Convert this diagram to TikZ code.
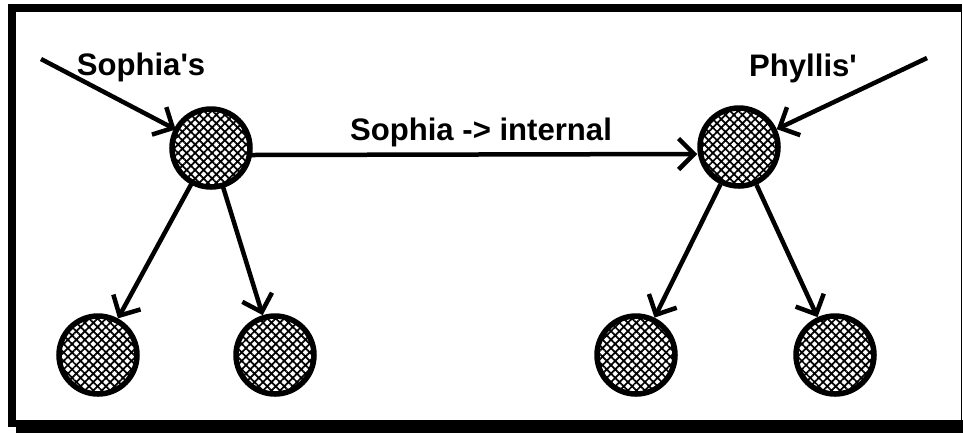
\documentclass[tikz,border=0pt]{standalone}
\usepackage{fontspec}
\setmainfont{Liberation Sans}
\usetikzlibrary{arrows.meta,patterns.meta}

\begin{document}
\begin{tikzpicture}[x=0.2mm, y=-0.2mm,
  every node/.style={font=\fontsize{17.7pt}{20pt}\selectfont\bfseries},
  agent/.style={circle, draw, line width=1.1mm, minimum size=15.6mm, inner sep=0pt,
    pattern={Hatch[angle=45, distance=1.2mm, line width=0.35mm]}},
  link/.style={line width=0.9mm, -{Straight Barb[length=3.1mm, width=6.2mm]}}]
\useasboundingbox (0,0) rectangle (963,433);
% frame
\fill (8,4) rectangle (16,427);
\fill (8,4) rectangle (962,12);
\fill (16,420) rectangle (963,433);
\draw[line width=0.25mm] (961.5,4) -- (961.5,420);
% agents
\node[agent] (sophia) at (211,148) {};
\node[agent] (phyllis) at (739,147) {};
\node[agent] (sl) at (98,355) {};
\node[agent] (sr) at (275,355) {};
\node[agent] (pl) at (636,355) {};
\node[agent] (pr) at (835,355) {};
\coordinate (sin) at (41,59);
\coordinate (pin) at (927,58);
% labels
\node[anchor=base] (slabel) at (141,75) {Sophia\textquotesingle s};
\node[anchor=base] (plabel) at (803,76) {Phyllis\textquotesingle};
\node[anchor=base] (mlabel) at (481,140) {Sophia -> internal};
% links
\draw[link] (sin) -- (sophia);
\draw[link] (pin) -- (phyllis);
\draw[link] ([yshift=-1.4mm]sophia.east) -- ([yshift=-1.4mm]phyllis.west);
\draw[link] (sophia) -- (sl);
\draw[link] (sophia) -- (sr);
\draw[link] (phyllis) -- (pl);
\draw[link] (phyllis) -- (pr);
\end{tikzpicture}
\end{document}
